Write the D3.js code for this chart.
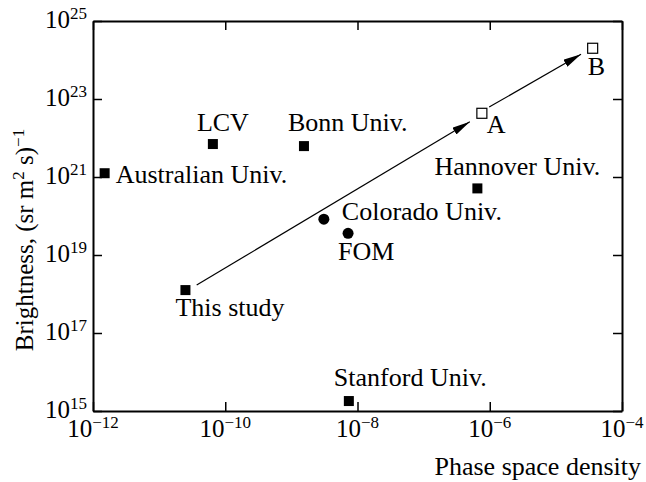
<!DOCTYPE html>
<html>
<head>
<meta charset="utf-8">
<script src="https://cdn.jsdelivr.net/npm/d3@7"></script>
<style>
  body { margin: 0; background: #fff; }
  text { font-family: "Liberation Serif", "Times New Roman", serif; fill: #000; }
</style>
</head>
<body>
<div id="chart"></div>
<script>
// data
var sources = ["Australian Univ.", "LCV", "Bonn Univ.", "Colorado Univ.", "FOM",
               "Hannover Univ.", "A", "B", "This study", "Stanford Univ."];
var density = [1.5e-12, 6.5e-11, 1.55e-9, 3.1e-9, 7.2e-9, 6.5e-7, 7.6e-7, 3.6e-5, 2.5e-11, 7.4e-9];
var brightness = [1.25e21, 7e21, 6.2e21, 8.3e19, 3.6e19, 5.1e20, 4.3e22, 2e24, 1.26e18, 1.8e15];
var marker = ["square", "square", "square", "circle", "circle",
              "square", "open", "open", "square", "square"];
// arrows: [x1, y1, x2, y2]
var arrows = [
  [3.7e-11, 1.7e18, 5.0e-7, 2.6e22],
  [9.8e-7, 6.2e22, 2.4e-5, 1.4e24]
];
var xTicks = [-12, -10, -8, -6, -4];
var yTicks = [15, 17, 19, 21, 23, 25];

// label placement (pixels from the marker)
var labelOffset = {
  "Australian Univ.": [11, 10],
  "LCV": [-16, -13],
  "Bonn Univ.": [-16, -15],
  "Colorado Univ.": [18, 1],
  "FOM": [-10, 27],
  "Hannover Univ.": [-43, -13],
  "A": [5, 20],
  "B": [-5, 27],
  "This study": [-10, 26],
  "Stanford Univ.": [-15, -15]
};

var svgWidth = 646, svgHeight = 482;
var pLeft = 93, pRight = 622, pTop = 21, pBottom = 411;

var svg = d3.select("#chart").append("svg")
  .attr("width", svgWidth)
  .attr("height", svgHeight);

var x = d3.scaleLog().domain([1e-12, 1e-4]).range([pLeft, pRight]);
var y = d3.scaleLog().domain([1e15, 1e25]).range([pBottom, pTop]);

var xVals = xTicks.map(e => Math.pow(10, e));
var yVals = yTicks.map(e => Math.pow(10, e));

function styleAxis(g) {
  g.selectAll(".domain").attr("stroke", "#000").attr("stroke-width", 2);
  g.selectAll(".tick line").attr("stroke", "#000").attr("stroke-width", 1.5);
  g.selectAll(".tick text").remove();
}

// axes with inward ticks on all four sides
svg.append("g").attr("transform", `translate(0,${pBottom})`)
  .call(d3.axisBottom(x).tickValues(xVals).tickSize(-9).tickSizeOuter(0).tickFormat(""))
  .call(styleAxis);
svg.append("g").attr("transform", `translate(0,${pTop})`)
  .call(d3.axisTop(x).tickValues(xVals).tickSize(-9).tickSizeOuter(0).tickFormat(""))
  .call(styleAxis);
svg.append("g").attr("transform", `translate(${pLeft},0)`)
  .call(d3.axisLeft(y).tickValues(yVals).tickSize(-9).tickSizeOuter(0).tickFormat(""))
  .call(styleAxis);
svg.append("g").attr("transform", `translate(${pRight},0)`)
  .call(d3.axisRight(y).tickValues(yVals).tickSize(-9).tickSizeOuter(0).tickFormat(""))
  .call(styleAxis);

// power-of-ten tick labels
function powLabel(sel, e) {
  sel.append("tspan").attr("font-size", 25).text("10");
  sel.append("tspan").attr("font-size", 17).attr("dy", -9)
    .text(e < 0 ? "\u2212" + Math.abs(e) : e);
}
xTicks.forEach(function(e) {
  var t = svg.append("text")
    .attr("x", x(Math.pow(10, e)))
    .attr("y", pBottom + 26)
    .attr("text-anchor", "middle");
  powLabel(t, e);
});
yTicks.forEach(function(e) {
  var t = svg.append("text")
    .attr("x", pLeft - 6)
    .attr("y", y(Math.pow(10, e)) + 7)
    .attr("text-anchor", "end");
  powLabel(t, e);
});

// arrow head
svg.append("defs").append("marker")
  .attr("id", "head")
  .attr("viewBox", "0 0 18 8")
  .attr("refX", 18).attr("refY", 4)
  .attr("markerWidth", 18).attr("markerHeight", 8)
  .attr("markerUnits", "userSpaceOnUse")
  .attr("orient", "auto")
  .append("path").attr("d", "M0,0 L18,4 L0,8 Z").attr("fill", "#000");

svg.selectAll(".arrow").data(arrows).enter().append("line")
  .attr("class", "arrow")
  .attr("x1", d => x(d[0])).attr("y1", d => y(d[1]))
  .attr("x2", d => x(d[2])).attr("y2", d => y(d[3]))
  .attr("stroke", "#000").attr("stroke-width", 1.2)
  .attr("marker-end", "url(#head)");

// points
var pts = sources.map((s, i) => ({name: s, x: density[i], y: brightness[i], m: marker[i]}));

svg.selectAll(".sq").data(pts.filter(d => d.m !== "circle")).enter().append("rect")
  .attr("x", d => x(d.x) - 5).attr("y", d => y(d.y) - 5)
  .attr("width", 10).attr("height", 10)
  .attr("fill", d => d.m === "open" ? "#fff" : "#000")
  .attr("stroke", "#000")
  .attr("stroke-width", d => d.m === "open" ? 1.2 : 0);

svg.selectAll(".dot").data(pts.filter(d => d.m === "circle")).enter().append("circle")
  .attr("cx", d => x(d.x)).attr("cy", d => y(d.y))
  .attr("r", 5.5).attr("fill", "#000");

svg.selectAll(".lbl").data(pts).enter().append("text")
  .attr("x", d => x(d.x) + labelOffset[d.name][0])
  .attr("y", d => y(d.y) + labelOffset[d.name][1])
  .attr("font-size", 26)
  .text(d => d.name);

// axis titles
svg.append("text")
  .attr("x", 641).attr("y", 475)
  .attr("text-anchor", "end")
  .attr("font-size", 26)
  .text("Phase space density");

var yt = svg.append("text")
  .attr("transform", "translate(33,240) rotate(-90)")
  .attr("text-anchor", "middle")
  .attr("font-size", 25);
yt.append("tspan").text("Brightness, (sr m");
yt.append("tspan").attr("font-size", 17).attr("dy", -9).text("2");
yt.append("tspan").attr("dy", 9).text(" s)");
yt.append("tspan").attr("font-size", 17).attr("dy", -9).text("\u22121");
</script>
</body>
</html>
